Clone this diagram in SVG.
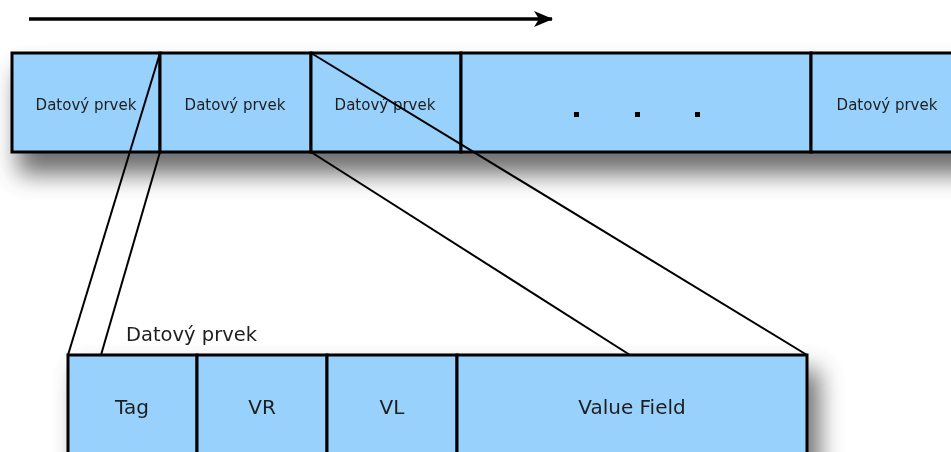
<svg xmlns="http://www.w3.org/2000/svg" width="951" height="452" viewBox="0 0 951 452">
  <style>
    .cell { fill: #97d1fc; stroke: #000; stroke-width: 3; }
    .lbl { font-family: "DejaVu Sans", "Liberation Sans", sans-serif; fill: #1e1e1e; text-anchor: middle; }
    .top { font-size: 15px; }
    .big { font-size: 20px; }
    .conn { stroke: #000; stroke-width: 2; fill: none; }
  </style>
  <defs>
    <filter id="sh" x="-20%" y="-60%" width="140%" height="220%">
      <feGaussianBlur stdDeviation="12"/>
    </filter>
    <marker id="ah" markerWidth="22" markerHeight="20" refX="19" refY="10" orient="auto" markerUnits="userSpaceOnUse">
      <path d="M1,2 L20,10 L1,18 L6,10 Z" fill="#000"/>
    </marker>
  </defs>
  <rect width="951" height="452" fill="#ffffff"/>
  <g id="shadows" opacity="0.8">
    <rect x="18" y="70" width="990" height="104" fill="#4a4a4a" filter="url(#sh)"/>
    <rect x="78" y="370" width="741" height="120" fill="#4a4a4a" filter="url(#sh)"/>
  </g>
  <g id="arrow">
    <line x1="29" y1="19" x2="552" y2="19" stroke="#000" stroke-width="3.5" marker-end="url(#ah)"/>
  </g>
  <g id="stream">
    <g id="de1"><rect class="cell" x="12" y="53" width="148" height="99"/><text class="lbl top" x="86" y="110">Datový prvek</text></g>
    <g id="de2"><rect class="cell" x="160" y="53" width="151" height="99"/><text class="lbl top" x="235" y="110">Datový prvek</text></g>
    <g id="de3"><rect class="cell" x="311" y="53" width="150" height="99"/><text class="lbl top" x="385" y="110">Datový prvek</text></g>
    <g id="dots"><rect class="cell" x="461" y="53" width="350" height="99"/>
      <rect x="574" y="112" width="5" height="5" fill="#000"/>
      <rect x="635" y="112" width="5" height="5" fill="#000"/>
      <rect x="695" y="112" width="5" height="5" fill="#000"/>
    </g>
    <g id="de5"><rect class="cell" x="811" y="53" width="160" height="99"/><text class="lbl top" x="887" y="110">Datový prvek</text></g>
  </g>
  <g id="element">
    <g id="tag"><rect class="cell" x="68" y="355" width="129" height="120"/><text class="lbl big" x="132" y="414">Tag</text></g>
    <g id="vr"><rect class="cell" x="197" y="355" width="130" height="120"/><text class="lbl big" x="262" y="414">VR</text></g>
    <g id="vl"><rect class="cell" x="327" y="355" width="130" height="120"/><text class="lbl big" x="392" y="414">VL</text></g>
    <g id="value"><rect class="cell" x="457" y="355" width="350" height="120"/><text class="lbl big" x="632" y="414">Value Field</text></g>
    <text x="126" y="341" font-family="DejaVu Sans, Liberation Sans, sans-serif" font-size="19.5" fill="#1e1e1e">Datový prvek</text>
  </g>
  <g id="connectors">
    <line class="conn" x1="160" y1="53" x2="68" y2="355"/>
    <line class="conn" x1="160" y1="152" x2="101" y2="355"/>
    <line class="conn" x1="311" y1="53" x2="807" y2="355"/>
    <line class="conn" x1="311" y1="152" x2="630" y2="355"/>
  </g>
</svg>
